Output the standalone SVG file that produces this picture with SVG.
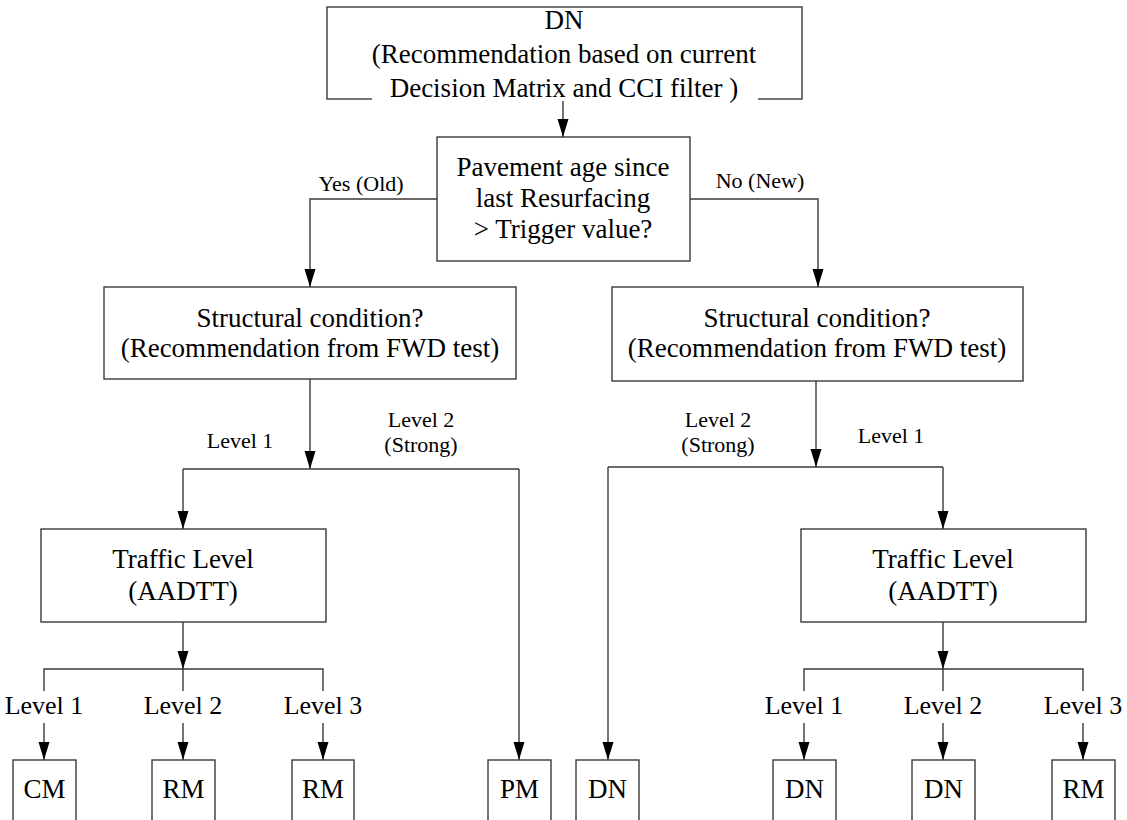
<svg xmlns="http://www.w3.org/2000/svg" width="1127" height="820" viewBox="0 0 1127 820">
<defs>
<marker id="arr" viewBox="0 -6 18 12" refX="18" refY="0" markerWidth="18" markerHeight="12" markerUnits="userSpaceOnUse" orient="auto">
<path d="M0,-5.5 L18,0 L0,5.5 Z" fill="#000"/>
</marker>
<style>
.box{fill:#fff;stroke:#3a3a3a;stroke-width:1.4}
.ln{fill:none;stroke:#3a3a3a;stroke-width:1.4}
.t{font-family:"Liberation Serif","Times New Roman",serif;font-size:27px;fill:#000;text-anchor:middle}
.s{font-family:"Liberation Serif","Times New Roman",serif;font-size:22px;fill:#000;text-anchor:middle}
.l{font-family:"Liberation Serif","Times New Roman",serif;font-size:26px;fill:#000;text-anchor:middle}
</style>
</defs>
<rect width="1127" height="820" fill="#fff"/>
<g id="connectors">
<path class="ln" d="M563,99 V137" marker-end="url(#arr)"/>
<path class="ln" d="M437,199 H310 V287" marker-end="url(#arr)"/>
<path class="ln" d="M690,199 H818 V287" marker-end="url(#arr)"/>
<path class="ln" d="M310,379 V469" marker-end="url(#arr)"/>
<path class="ln" d="M183,469 H519"/>
<path class="ln" d="M183,469 V529" marker-end="url(#arr)"/>
<path class="ln" d="M519,469 V760" marker-end="url(#arr)"/>
<path class="ln" d="M816,381 V467" marker-end="url(#arr)"/>
<path class="ln" d="M608,467 H943"/>
<path class="ln" d="M608,467 V760" marker-end="url(#arr)"/>
<path class="ln" d="M943,467 V529" marker-end="url(#arr)"/>
<path class="ln" d="M183,622 V669" marker-end="url(#arr)"/>
<path class="ln" d="M44,691 V669 H323 V691 M183,669 V691"/>
<path class="ln" d="M44,723 V760" marker-end="url(#arr)"/>
<path class="ln" d="M183,723 V760" marker-end="url(#arr)"/>
<path class="ln" d="M323,723 V760" marker-end="url(#arr)"/>
<path class="ln" d="M943,622 V669" marker-end="url(#arr)"/>
<path class="ln" d="M804,691 V669 H1083 V691 M943,669 V691"/>
<path class="ln" d="M804,723 V760" marker-end="url(#arr)"/>
<path class="ln" d="M943,723 V760" marker-end="url(#arr)"/>
<path class="ln" d="M1083,723 V760" marker-end="url(#arr)"/>
<text class="s" x="361" y="191">Yes (Old)</text>
<text class="s" x="760" y="188">No (New)</text>
<text class="s" x="240" y="448">Level 1</text>
<text class="s" x="421" y="427">Level 2</text>
<text class="s" x="421" y="452">(Strong)</text>
<text class="s" x="718" y="427">Level 2</text>
<text class="s" x="718" y="452">(Strong)</text>
<text class="s" x="891" y="443">Level 1</text>
<text class="l" x="44" y="714">Level 1</text>
<text class="l" x="183" y="714">Level 2</text>
<text class="l" x="323" y="714">Level 3</text>
<text class="l" x="804" y="714">Level 1</text>
<text class="l" x="943" y="714">Level 2</text>
<text class="l" x="1083" y="714">Level 3</text>
</g>
<g id="n-top">
<rect class="box" x="327" y="7" width="475" height="92"/>
<rect x="372" y="78" width="386" height="23" fill="#fff"/>
<text class="t" x="564" y="29">DN</text>
<text class="t" x="564" y="63">(Recommendation based on current</text>
<text class="t" x="564" y="97">Decision Matrix and CCI filter )</text>
</g>
<g id="n-decision">
<rect class="box" x="437" y="137" width="253" height="124"/>
<text class="t" x="563" y="176">Pavement age since</text>
<text class="t" x="563" y="207">last Resurfacing</text>
<text class="t" x="563" y="238">&gt; Trigger value?</text>
</g>
<g id="n-struct-left">
<rect class="box" x="104" y="287" width="412" height="92"/>
<text class="t" x="310" y="327">Structural condition?</text>
<text class="t" x="310" y="357">(Recommendation from FWD test)</text>
</g>
<g id="n-struct-right">
<rect class="box" x="612" y="287" width="411" height="94"/>
<text class="t" x="817" y="327">Structural condition?</text>
<text class="t" x="817" y="357">(Recommendation from FWD test)</text>
</g>
<g id="n-traffic-left">
<rect class="box" x="41" y="529" width="285" height="93"/>
<text class="t" x="183" y="568">Traffic Level</text>
<text class="t" x="183" y="600">(AADTT)</text>
</g>
<g id="n-traffic-right">
<rect class="box" x="801" y="529" width="285" height="93"/>
<text class="t" x="943" y="568">Traffic Level</text>
<text class="t" x="943" y="600">(AADTT)</text>
</g>
<g id="n-cm"><rect class="box" x="13" y="760" width="63" height="80"/><text class="t" x="44.5" y="798">CM</text></g>
<g id="n-rm1"><rect class="box" x="152" y="760" width="63" height="80"/><text class="t" x="183.5" y="798">RM</text></g>
<g id="n-rm2"><rect class="box" x="292" y="760" width="62" height="80"/><text class="t" x="323" y="798">RM</text></g>
<g id="n-pm"><rect class="box" x="488" y="760" width="63" height="80"/><text class="t" x="519.5" y="798">PM</text></g>
<g id="n-dn1"><rect class="box" x="576" y="760" width="63" height="80"/><text class="t" x="607.5" y="798">DN</text></g>
<g id="n-dn2"><rect class="box" x="773" y="760" width="63" height="80"/><text class="t" x="804.5" y="798">DN</text></g>
<g id="n-dn3"><rect class="box" x="912" y="760" width="63" height="80"/><text class="t" x="943.5" y="798">DN</text></g>
<g id="n-rm3"><rect class="box" x="1052" y="760" width="63" height="80"/><text class="t" x="1083.5" y="798">RM</text></g>
</svg>
